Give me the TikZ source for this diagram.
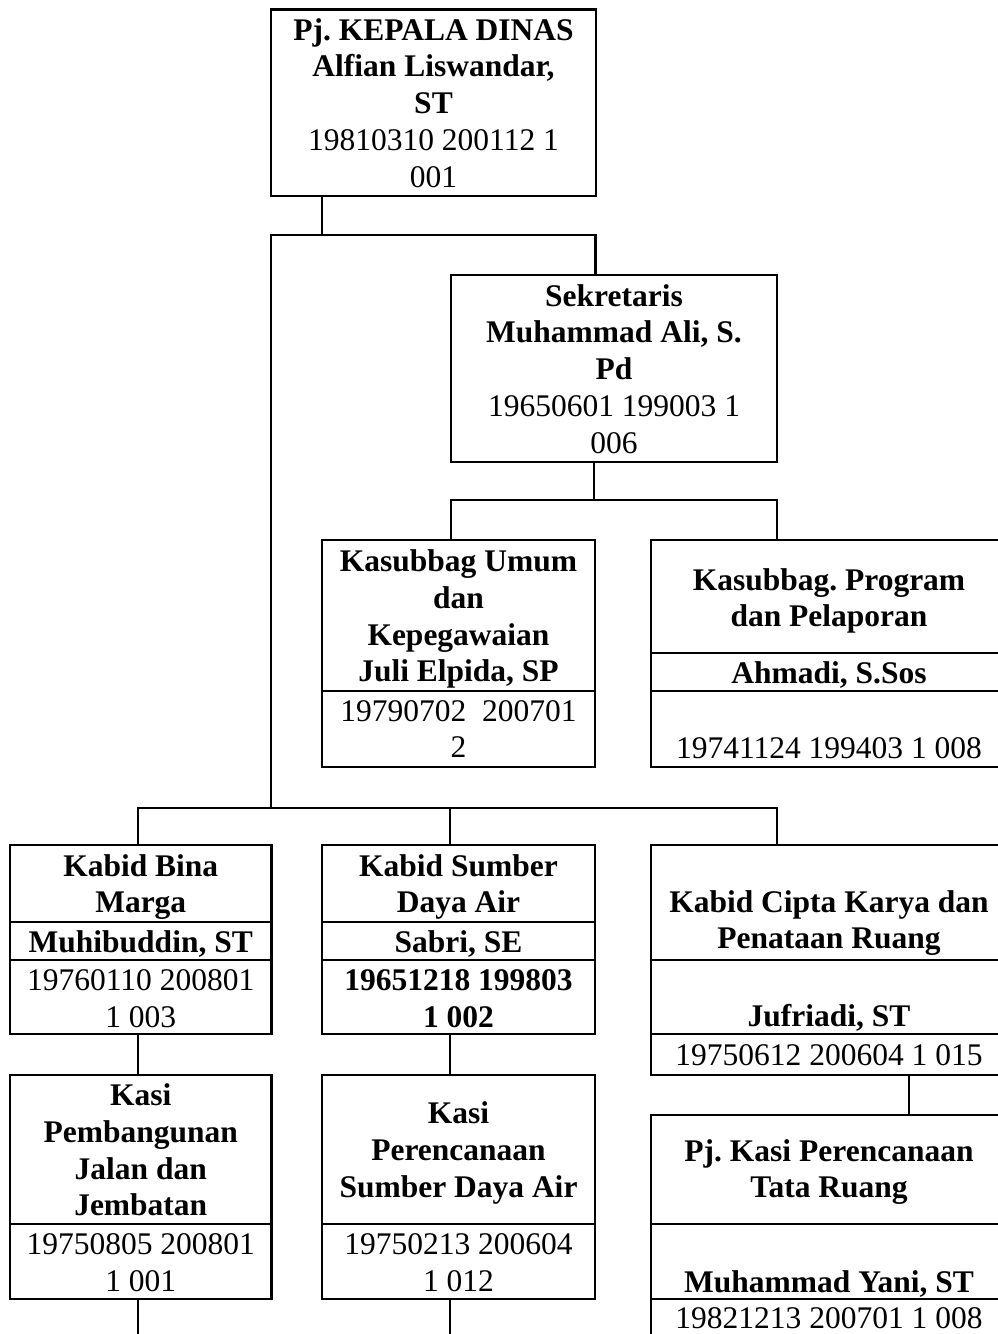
\documentclass[tikz,border=0pt]{standalone}
\usepackage{fontspec}
\setmainfont{Liberation Serif}
\frenchspacing
\begin{document}
\begin{tikzpicture}[x=1pt,y=-1pt,
  box/.style={draw,line width=2.8pt,rectangle,inner sep=0pt,outer sep=0pt,anchor=north west},
  conn/.style={line width=2.8pt,line join=miter},
  divl/.style={line width=1.6pt},
  tb/.style={anchor=base,inner sep=0pt,font={\fontsize{31.5}{36.8}\selectfont\bfseries\frenchspacing}},
  tn/.style={anchor=base,inner sep=0pt,font={\fontsize{31.5}{36.8}\selectfont\frenchspacing}}]
\useasboundingbox (0,0) rectangle (998,1334);
\fill[white] (0,0) rectangle (998,1334);
\clip (0,0) rectangle (998,1334);
% boxes
\node[box,minimum width=325pt,minimum height=186.5pt] (A) at (271,9.5) {};
\node[box,minimum width=326pt,minimum height=187pt] (B) at (451,275) {};
\node[box,minimum width=273pt,minimum height=227pt] (C) at (322,540) {};
\node[box,minimum width=356pt,minimum height=227pt] (D) at (651,540) {};
\node[box,minimum width=261.5pt,minimum height=189pt] (E) at (10,845) {};
\node[box,minimum width=273pt,minimum height=189pt] (F) at (322,845) {};
\node[box,minimum width=356pt,minimum height=230pt] (G) at (651,845) {};
\node[box,minimum width=261.5pt,minimum height=224pt] (I) at (10,1075) {};
\node[box,minimum width=273pt,minimum height=224pt] (J) at (322,1075) {};
\node[box,minimum width=356pt,minimum height=227pt] (H) at (651,1115) {};
% dividers
\draw[divl] (322,690.7) -- (595,690.7);
\draw[divl] (651,652.7) -- (1007,652.7);
\draw[divl] (651,690.7) -- (1007,690.7);
\draw[divl] (10,922) -- (271.5,922);
\draw[divl] (10,960) -- (271.5,960);
\draw[divl] (322,922) -- (595,922);
\draw[divl] (322,960) -- (595,960);
\draw[divl] (651,960) -- (1007,960);
\draw[divl] (651,1034) -- (1007,1034);
\draw[divl] (10,1224) -- (271.5,1224);
\draw[divl] (322,1224) -- (595,1224);
\draw[divl] (651,1224) -- (1007,1224);
\draw[divl] (651,1299) -- (1007,1299);
% connector coordinates
\coordinate (a1) at (322,235);
\coordinate (bl) at (271,235);
\coordinate (br) at (595.5,235);
\coordinate (s1) at (271,808);
\coordinate (c1) at (594,500);
\coordinate (cl) at (451,500);
\coordinate (cr) at (777,500);
\coordinate (b0) at (138,808);
\coordinate (f0) at (450,808);
\coordinate (b3) at (777,808);
\coordinate (g0) at (909,1000);
\coordinate (iend) at (138,1340);
\coordinate (jend) at (450,1340);
% connectors
\draw[conn] (a1 |- A.south) -- (a1);
\draw[conn] (s1) -- (bl) -- (br) -- (br |- B.north);
\draw[conn] (c1 |- B.south) -- (c1);
\draw[conn] (cl |- C.north) -- (cl) -- (cr) -- (cr |- D.north);
\draw[conn] (b0 |- E.north) -- (b0) -- (b3) -- (b3 |- G.north);
\draw[conn] (f0) -- (f0 |- F.north);
\draw[conn] (b0 |- E.south) -- (b0 |- I.north);
\draw[conn] (f0 |- F.south) -- (f0 |- J.north);
\draw[conn] (g0 |- G.south) -- (g0 |- H.north);
\draw[conn] (b0 |- I.south) -- (iend);
\draw[conn] (f0 |- J.south) -- (jend);
% texts A
\foreach \t [count=\i from 0] in {Pj. KEPALA DINAS,{Alfian Liswandar,},ST}
  \node[tb] (At\i) at ({433.5},{40+36.8*\i}) {\t};
\foreach \t [count=\i from 0] in {19810310 200112 1,001}
  \node[tn] (An\i) at ({433.5},{150.4+36.8*\i}) {\t};
% texts B
\foreach \t [count=\i from 0] in {Sekretaris,{Muhammad Ali, S.},Pd}
  \node[tb] (Bt\i) at ({614},{306+36.8*\i}) {\t};
\foreach \t [count=\i from 0] in {19650601 199003 1,006}
  \node[tn] (Bn\i) at ({614},{416.4+36.8*\i}) {\t};
% texts C
\foreach \t [count=\i from 0] in {Kasubbag Umum,dan,Kepegawaian,{Juli Elpida, SP}}
  \node[tb] (Ct\i) at ({458.5},{571.5+36.8*\i}) {\t};
\foreach \t [count=\i from 0] in {19790702~~200701,2}
  \node[tn] (Cn\i) at ({458.5},{721+36.8*\i}) {\t};
% texts D
\foreach \t [count=\i from 0] in {Kasubbag. Program,dan Pelaporan}
  \node[tb] (Dt\i) at ({829},{590+36.8*\i}) {\t};
\node[tb] (Dname) at (829,683) {Ahmadi, S.Sos};
\node[tn] (Dn) at (829,758) {19741124 199403 1 008};
% texts E
\foreach \t [count=\i from 0] in {Kabid Bina,Marga}
  \node[tb] (Et\i) at ({140.75},{876+36.8*\i}) {\t};
\node[tb] (Ename) at (140.75,952.5) {Muhibuddin, ST};
\foreach \t [count=\i from 0] in {19760110 200801,1 003}
  \node[tn] (En\i) at ({140.75},{990.5+36.8*\i}) {\t};
% texts F
\foreach \t [count=\i from 0] in {Kabid Sumber,Daya Air}
  \node[tb] (Ft\i) at ({458.5},{876+36.8*\i}) {\t};
\node[tb] (Fname) at (458.5,952.5) {Sabri, SE};
\foreach \t [count=\i from 0] in {19651218 199803,1 002}
  \node[tb] (Fn\i) at ({458.5},{990.5+36.8*\i}) {\t};
% texts G
\foreach \t [count=\i from 0] in {Kabid Cipta Karya dan,Penataan Ruang}
  \node[tb] (Gt\i) at ({829},{912+36.8*\i}) {\t};
\node[tb] (Gname) at (829,1026) {Jufriadi, ST};
\node[tn] (Gn) at (829,1065) {19750612 200604 1 015};
% texts H
\foreach \t [count=\i from 0] in {Pj. Kasi Perencanaan,Tata Ruang}
  \node[tb] (Ht\i) at ({829},{1161+36.8*\i}) {\t};
\node[tb] (Hname) at (829,1292) {Muhammad Yani, ST};
\node[tn] (Hn) at (829,1328.5) {19821213 200701 1 008};
% texts I
\foreach \t [count=\i from 0] in {Kasi,Pembangunan,Jalan dan,Jembatan}
  \node[tb] (It\i) at ({140.75},{1105.5+36.8*\i}) {\t};
\foreach \t [count=\i from 0] in {19750805 200801,1 001}
  \node[tn] (In\i) at ({140.75},{1254.5+36.8*\i}) {\t};
% texts J
\foreach \t [count=\i from 0] in {Kasi,Perencanaan,Sumber Daya Air}
  \node[tb] (Jt\i) at ({458.5},{1123.5+36.8*\i}) {\t};
\foreach \t [count=\i from 0] in {19750213 200604,1 012}
  \node[tn] (Jn\i) at ({458.5},{1254.5+36.8*\i}) {\t};
\end{tikzpicture}
\end{document}
